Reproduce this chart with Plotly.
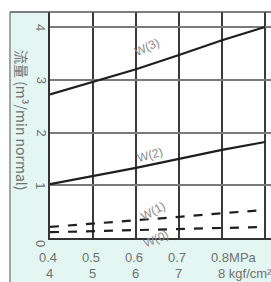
import plotly.graph_objects as go

pressure = [0.4, 0.5, 0.6, 0.7, 0.8, 0.9]
w3 = [2.72, 2.96, 3.2, 3.47, 3.75, 4.0]
w2 = [1.02, 1.17, 1.33, 1.5, 1.67, 1.82]
w1 = [0.21, 0.27, 0.34, 0.40, 0.47, 0.53]
w0 = [0.11, 0.13, 0.15, 0.17, 0.19, 0.21]

x_ticks = [0.4, 0.5, 0.6, 0.7, 0.8]
mpa_labels = ["0.4", "0.5", "0.6", "0.7", "0.8MPa"]
kgf_labels = ["4", "5", "6", "7", "8 kgf/cm²"]
y_ticks = [0, 1, 2, 3, 4]
y_title = "流量 (m³/min normal)"
series_names = ["W(3)", "W(2)", "W(1)", "W(0)"]

W, H = 271, 282
L, R, T, B = 50, 0, 12, 44
pw, ph = W - L - R, H - T - B

def px(xp):
    return (xp - L) / pw

def py(yp):
    return (H - B - yp) / ph

fig = go.Figure()
line_col = "#1e1e1e"
for vals, dash in [(w3, "solid"), (w2, "solid"), (w1, "dash"), (w0, "dash")]:
    fig.add_trace(go.Scatter(x=pressure, y=vals, mode="lines",
                             line=dict(color=line_col, width=2.2, dash=dash),
                             showlegend=False, hoverinfo="skip"))

band = "#e4f6f2"
shapes = [
    dict(type="rect", xref="paper", yref="paper", x0=px(10), x1=px(L), y0=py(H), y1=1,
         fillcolor=band, line_width=0, layer="below"),
    dict(type="rect", xref="paper", yref="paper", x0=px(10), x1=1, y0=py(H), y1=0,
         fillcolor=band, line_width=0, layer="below"),
    dict(type="line", xref="paper", yref="paper", x0=px(10), x1=px(10), y0=py(H), y1=1,
         line=dict(color="#888", width=1.5)),
    dict(type="line", xref="paper", yref="paper", x0=px(10), x1=1, y0=1, y1=1,
         line=dict(color="#555", width=1.5)),
]
fig.update_layout(shapes=shapes)

ann = []
tick_font = dict(family="Liberation Sans", size=13, color="#707070")
for xv, a, b in zip(x_ticks, mpa_labels, kgf_labels):
    ann.append(dict(x=xv, y=py(257), xref="x", yref="paper", text=a, showarrow=False,
                    xanchor="left", yanchor="middle", xshift=-13, font=tick_font))
    ann.append(dict(x=xv, y=py(273), xref="x", yref="paper", text=b, showarrow=False,
                    xanchor="left", yanchor="middle", xshift=-6, font=tick_font))
for yv in y_ticks:
    ann.append(dict(x=px(41), y=yv, xref="paper", yref="y", text=str(yv), showarrow=False,
                    xanchor="center", yanchor="middle", textangle=90,
                    yshift=-5 if yv == 0 else 0, font=tick_font))
ann.append(dict(x=px(22), y=py(120), xref="paper", yref="paper", text=y_title,
                showarrow=False, textangle=90, xanchor="center", yanchor="middle",
                font=dict(family="Noto Sans CJK JP", size=14, color="#707070")))

lab_font = dict(family="Liberation Sans", size=12, color="#8a8a8a")
label_pos = [(0.626, py(47), -25), (0.633, py(155), -15), (0.64, py(211), -28), (0.646, py(239), -22)]
for name, (lx, ly, ang) in zip(series_names, label_pos):
    ann.append(dict(x=lx, y=ly, xref="x", yref="paper", text=name, showarrow=False,
                    xanchor="center", yanchor="middle", textangle=ang, font=lab_font))
fig.update_layout(annotations=ann)

fig.update_xaxes(range=[0.4, 0.4 + pw / 430], tickvals=[0.4, 0.5, 0.6, 0.7, 0.8, 0.9],
                 showticklabels=False, showgrid=True, gridcolor="#3a3a3a", gridwidth=1.5,
                 zeroline=False, showline=True, linecolor="#333", linewidth=1.5, ticks="")
fig.update_yaxes(range=[0, (H - B - T) / 52.75], tickvals=[1, 2, 3, 4],
                 showticklabels=False, showgrid=True, gridcolor="#7a7a7a", gridwidth=2,
                 zeroline=False, showline=True, linecolor="#333", linewidth=1.5, ticks="")

fig.update_layout(width=W, height=H, margin=dict(l=L, r=R, t=T, b=B),
                  paper_bgcolor="white", plot_bgcolor="white")
fig.write_html("out.html", config={"displayModeBar": False},
               post_script="document.body.style.margin='0';document.body.style.padding='0';")
